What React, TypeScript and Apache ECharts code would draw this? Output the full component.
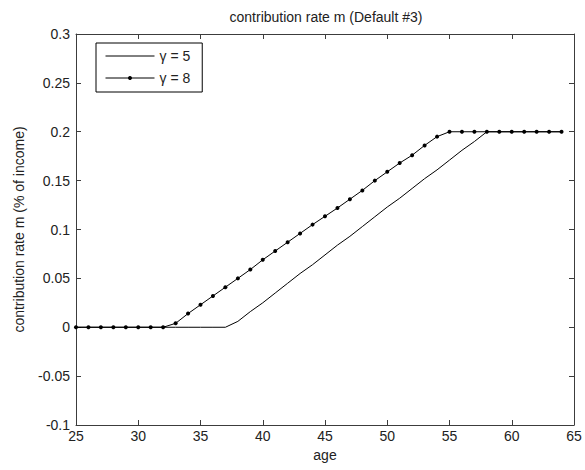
import React, { useEffect, useRef } from "react";
import * as echarts from "echarts";

const ages = [25,26,27,28,29,30,31,32,33,34,35,36,37,38,39,40,41,42,43,44,45,46,47,48,49,50,51,52,53,54,55,56,57,58,59,60,61,62,63,64];
const gamma5 = [0,0,0,0,0,0,0,0,0,0,0,0,0,0.006,0.016,0.025,0.035,0.045,0.055,0.064,0.074,0.084,0.093,0.103,0.113,0.123,0.132,0.142,0.152,0.161,0.171,0.181,0.190,0.2,0.2,0.2,0.2,0.2,0.2,0.2];
const gamma8 = [0,0,0,0,0,0,0,0,0.004,0.014,0.023,0.032,0.041,0.050,0.059,0.069,0.078,0.087,0.096,0.105,0.1135,0.122,0.131,0.140,0.150,0.159,0.168,0.176,0.186,0.195,0.2,0.2,0.2,0.2,0.2,0.2,0.2,0.2,0.2,0.2];
const seriesNames = ["γ = 5", "γ = 8"];
const xTicks = { min: 25, max: 65, interval: 5 };
const yTicks = { min: -0.1, max: 0.3, interval: 0.05 };
const titleText = "contribution rate m (Default #3)";
const xLabel = "age";
const yLabel = "contribution rate m (% of income)";

const FONT = "'Liberation Sans', Arial, sans-serif";
const FS = 14;
const TXT = "#222";
const AX = "#3c3c3c";

export default function App() {
  const ref = useRef<HTMLDivElement>(null);
  useEffect(() => {
    document.body.style.margin = "0";
    if (!ref.current) return;
    const chart = echarts.init(ref.current, null, { renderer: "svg" });
    const pairs = (ys: number[]) => ages.map((a, i) => [a, ys[i]]);
    const baseX = {
      type: "value" as const,
      min: xTicks.min,
      max: xTicks.max,
      interval: xTicks.interval,
      splitLine: { show: false },
      axisLine: { show: true, onZero: false, lineStyle: { color: AX, width: 1 } },
      axisTick: { show: true, inside: true, length: 5, lineStyle: { color: AX } },
    };
    const baseY = {
      type: "value" as const,
      min: yTicks.min,
      max: yTicks.max,
      interval: yTicks.interval,
      splitLine: { show: false },
      axisLine: { show: true, onZero: false, lineStyle: { color: AX, width: 1 } },
      axisTick: { show: true, inside: true, length: 5, lineStyle: { color: AX } },
    };
    chart.setOption({
      animation: false,
      backgroundColor: "#fff",
      textStyle: { fontFamily: FONT },
      title: {
        text: titleText,
        left: 326,
        textAlign: "center",
        top: 10,
        padding: 0,
        textStyle: { fontFamily: FONT, fontSize: FS, fontWeight: "normal", color: TXT },
      },
      grid: { left: 76, right: 11, top: 34, bottom: 45, containLabel: false },
      legend: {
        orient: "vertical",
        left: 96,
        top: 43,
        itemWidth: 49,
        itemHeight: 5,
        itemGap: 8,
        padding: [6, 12, 7, 9],
        borderColor: "#000",
        borderWidth: 1,
        backgroundColor: "#fff",
        lineStyle: { width: 1, color: "#000" },
        textStyle: { fontFamily: FONT, fontSize: FS, color: TXT },
        data: [
          { name: seriesNames[0], itemStyle: { opacity: 0 } },
          { name: seriesNames[1] },
        ],
      },
      xAxis: [
        {
          ...baseX,
          position: "bottom",
          name: xLabel,
          nameLocation: "middle",
          nameGap: 22,
          nameTextStyle: { fontFamily: FONT, fontSize: FS, color: TXT },
          axisLabel: { show: true, margin: 4, color: TXT, fontSize: FS, fontFamily: FONT },
        },
        { ...baseX, position: "top", axisLabel: { show: false } },
      ],
      yAxis: [
        {
          ...baseY,
          position: "left",
          name: yLabel,
          nameLocation: "middle",
          nameGap: 50,
          nameTextStyle: { fontFamily: FONT, fontSize: FS, color: TXT },
          axisLabel: {
            show: true,
            margin: 6,
            color: TXT,
            fontSize: FS,
            fontFamily: FONT,
            formatter: (v: number) => String(Math.round(v * 100) / 100),
          },
        },
        { ...baseY, position: "right", axisLabel: { show: false } },
      ],
      series: [
        {
          name: seriesNames[0],
          type: "line",
          data: pairs(gamma5),
          symbol: "none",
          lineStyle: { color: "#000", width: 1 },
          itemStyle: { color: "#000" },
          z: 3,
        },
        {
          name: seriesNames[1],
          type: "line",
          data: pairs(gamma8),
          symbol: "circle",
          symbolSize: 4,
          showSymbol: true,
          lineStyle: { color: "#000", width: 1 },
          itemStyle: { color: "#000" },
          z: 4,
        },
      ],
    });
    return () => chart.dispose();
  }, []);
  return <div ref={ref} style={{ width: 585, height: 470 }} />;
}
